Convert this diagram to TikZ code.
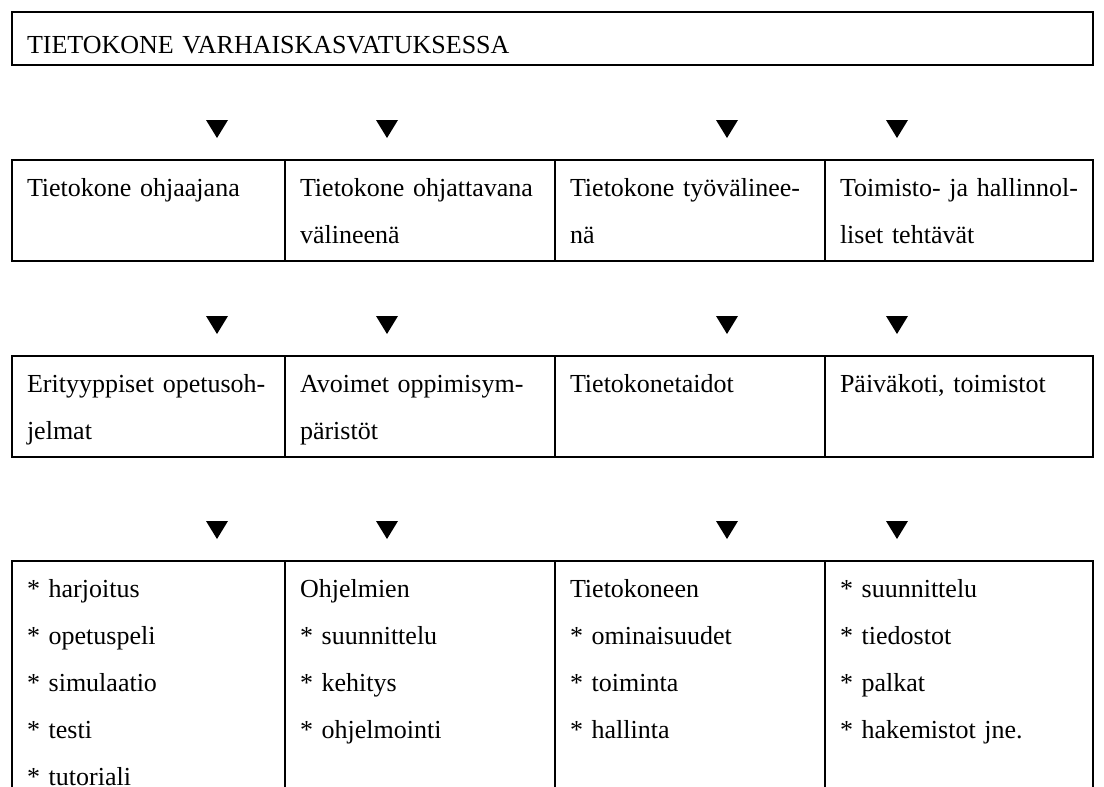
\documentclass[tikz,border=0pt]{standalone}
\usepackage{fontspec}
\setmainfont{Liberation Serif}
\usepackage{tikz}
\usetikzlibrary{positioning}

\tikzset{
    cell/.style={draw, line width=1pt, outer sep=0pt, anchor=north west, align=left,
        inner xsep=7.5pt, font=\fontsize{13pt}{23.5pt}\selectfont},
    row/.style={cell, inner ysep=1.75pt,
        execute at begin node=\strut, execute at end node=\strut},
    pointer/.pic={\fill (-11,9) -- (11,9) -- (0,-9) -- cycle;}
}

\begin{document}
\begin{tikzpicture}[x=0.5pt, y=0.5pt]
    \useasboundingbox (0,0) rectangle (1104,-787);
    \clip (0,0) rectangle (1104,-787);

    \node[cell, text width=525.5pt, minimum height=26.5pt, inner ysep=0pt,
          text height=15pt, text depth=0pt] (title) at (12,-12) {TIETOKONE VARHAISKASVATUKSESSA};

    % first row
    \node[row, text width=121.5pt, below right=47.5pt and 0pt of title.south west] (ohjaaja) {Tietokone ohjaajana\\};
    \node[row, text width=120pt, right=0pt of ohjaaja] (ohjattava) {Tietokone ohjattavana\\välineenä};
    \node[row, text width=120pt, right=0pt of ohjattava] (tyovaline) {Tietokone työvälinee-\\nä};
    \node[row, text width=119pt, right=0pt of tyovaline] (toimisto) {Toimisto- ja hallinnol-\\liset tehtävät};

    % second row
    \node[row, text width=121.5pt, below=47.5pt of ohjaaja] (opetus) {Erityyppiset opetusoh-\\jelmat};
    \node[row, text width=120pt, right=0pt of opetus] (avoimet) {Avoimet oppimisym-\\päristöt};
    \node[row, text width=120pt, right=0pt of avoimet] (taidot) {Tietokonetaidot\\};
    \node[row, text width=119pt, right=0pt of taidot] (paivakoti) {Päiväkoti, toimistot\\};

    % third row, runs off the page
    \node[row, text width=121.5pt, below=52pt of opetus] (tyypit) {{}* harjoitus\\{}* opetuspeli\\{}* simulaatio\\{}* testi\\{}* tutoriali};
    \node[row, text width=120pt, right=0pt of tyypit] (ohjelmat) {Ohjelmien\\{}* suunnittelu\\{}* kehitys\\{}* ohjelmointi\\};
    \node[row, text width=120pt, right=0pt of ohjelmat] (kone) {Tietokoneen\\{}* ominaisuudet\\{}* toiminta\\{}* hallinta\\};
    \node[row, text width=119pt, right=0pt of kone] (hallinto) {{}* suunnittelu\\{}* tiedostot\\{}* palkat\\{}* hakemistot jne.\\};

    % pointers between the rows
    \foreach \y in {-129, -325, -530}
        \foreach \x in {217, 387, 727, 897}
            \pic at (\x,\y) {pointer};
\end{tikzpicture}
\end{document}
